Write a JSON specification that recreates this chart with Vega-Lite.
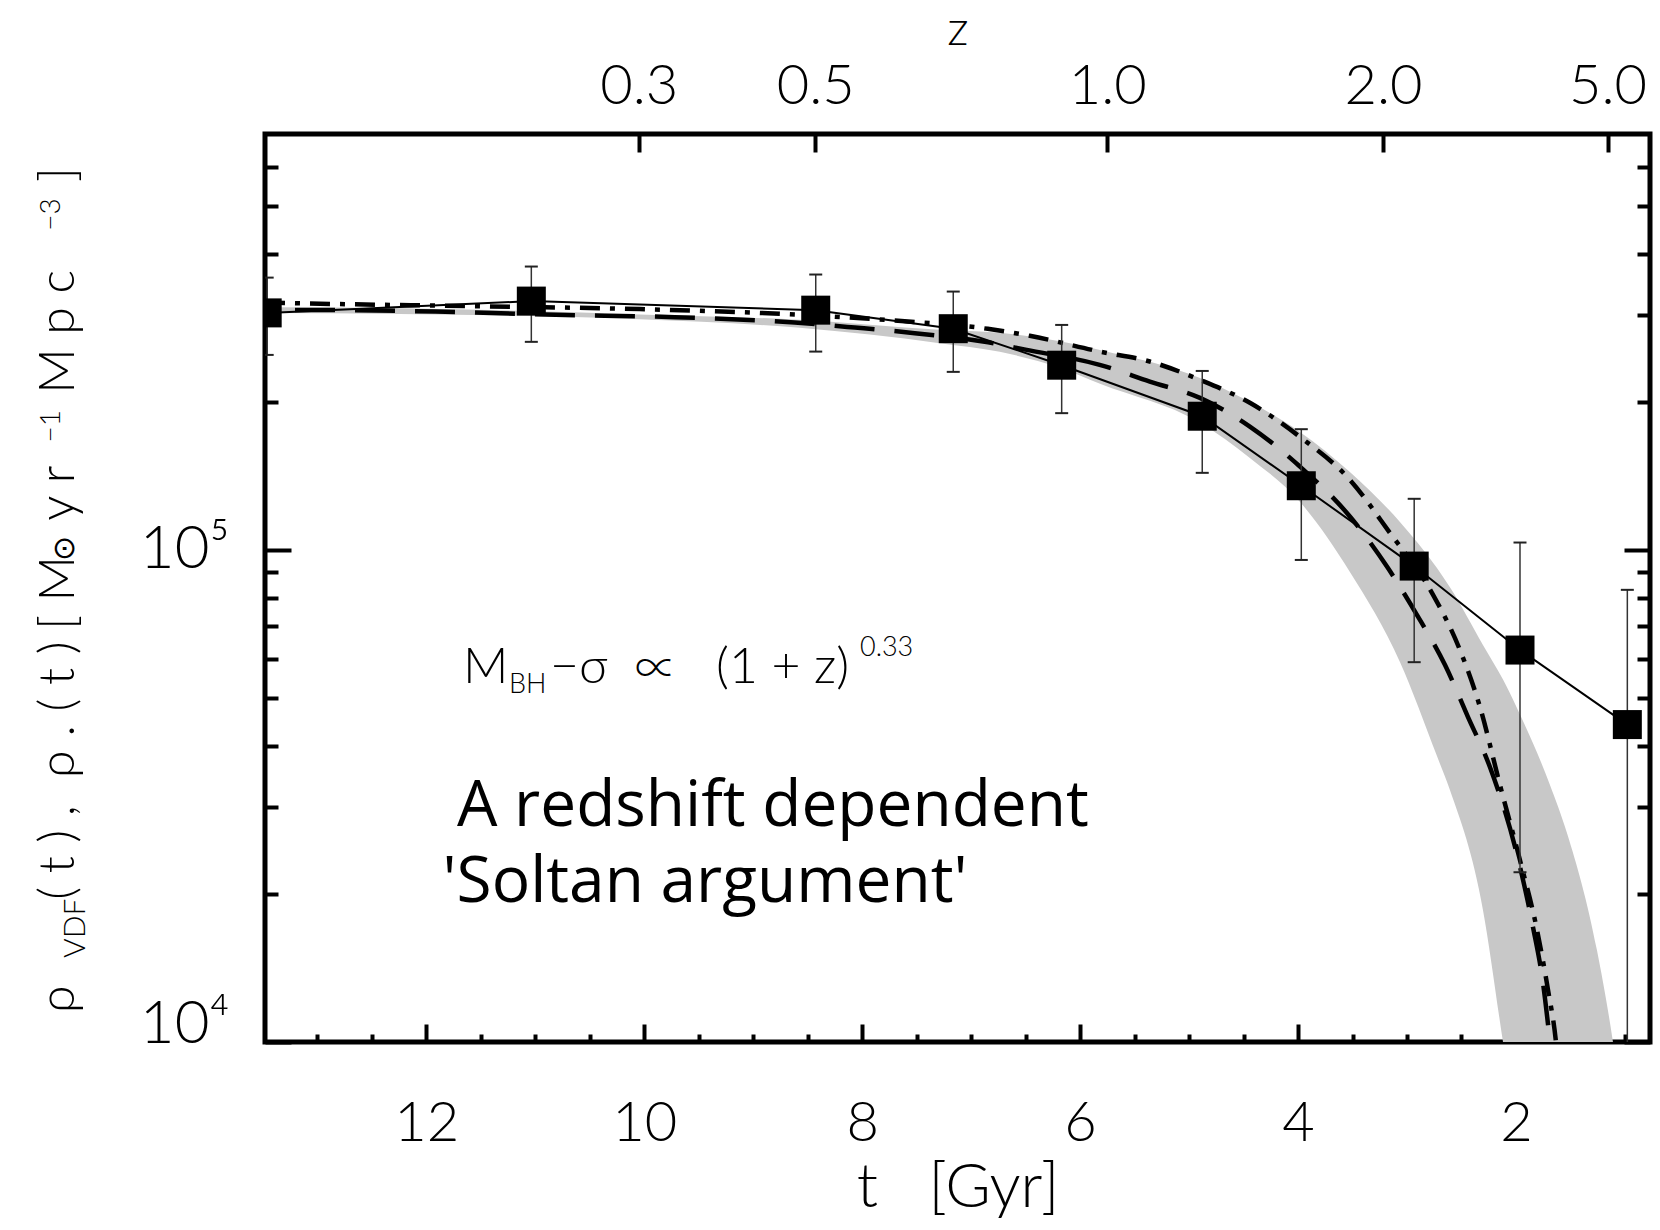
{
  "$schema": "https://vega.github.io/schema/vega-lite/v6.json",
  "width": 1385,
  "height": 908,
  "autosize": {"type": "none"},
  "padding": {"left": 265, "top": 134, "right": 10, "bottom": 188},
  "background": "white",
  "config": {
    "view": {"stroke": "black", "strokeWidth": 5},
    "axis": {"grid": false, "domain": false, "tickColor": "black", "tickWidth": 4, "labelColor": "black", "titleColor": "black", "labelFont": "Lato", "titleFont": "Lato", "labelFontWeight": 300, "titleFontWeight": 300}
  },
  "datasets": {
    "pts": [
      {"t": 13.46, "rho": 303100, "lo": 249000, "hi": 357500},
      {"t": 11.036, "rho": 320300, "lo": 264700, "hi": 376500},
      {"t": 8.426, "rho": 307000, "lo": 252900, "hi": 362700},
      {"t": 7.164, "rho": 281500, "lo": 230000, "hi": 334900},
      {"t": 6.169, "rho": 237300, "lo": 189600, "hi": 286500},
      {"t": 4.879, "rho": 186900, "lo": 143400, "hi": 231000},
      {"t": 3.970, "rho": 135000, "lo": 95400, "hi": 175900},
      {"t": 2.934, "rho": 92700, "lo": 59130, "hi": 127000},
      {"t": 1.963, "rho": 62580, "lo": 22130, "hi": 103500},
      {"t": 0.978, "rho": 44160, "lo": 9000, "hi": 82950}
    ],
    "band": [
      {"t": 13.48, "hi": 311100, "lo": 303100},
      {"t": 12.245, "hi": 309700, "lo": 301700},
      {"t": 10.042, "hi": 301000, "lo": 294100},
      {"t": 8.573, "hi": 293400, "lo": 282600},
      {"t": 7.288, "hi": 280000, "lo": 263100},
      {"t": 6.737, "hi": 276100, "lo": 252600},
      {"t": 6.186, "hi": 265500, "lo": 234400},
      {"t": 5.817, "hi": 254900, "lo": 217500},
      {"t": 4.900, "hi": 223600, "lo": 181200},
      {"t": 4.442, "hi": 199900, "lo": 153800},
      {"t": 3.983, "hi": 173700, "lo": 125200},
      {"t": 3.524, "hi": 144000, "lo": 90200},
      {"t": 3.065, "hi": 114000, "lo": 59200},
      {"t": 2.725, "hi": 91900, "lo": 38100},
      {"t": 2.606, "hi": 84000, "lo": 32500},
      {"t": 2.303, "hi": 64100, "lo": 18550},
      {"t": 2.119, "hi": 54500, "lo": 10000},
      {"t": 1.991, "hi": 47700, "lo": 6600},
      {"t": 1.688, "hi": 33300, "lo": 6600},
      {"t": 1.532, "hi": 26600, "lo": 6600},
      {"t": 1.257, "hi": 15380, "lo": 6600},
      {"t": 1.110, "hi": 10000, "lo": 6600},
      {"t": 1.0, "hi": 6600, "lo": 6500}
    ],
    "dashed": [
      {"t": 13.48, "rho": 307400},
      {"t": 13.163, "rho": 307400},
      {"t": 11.915, "rho": 305000},
      {"t": 10.813, "rho": 300300},
      {"t": 9.720, "rho": 297100},
      {"t": 8.619, "rho": 289700},
      {"t": 8.068, "rho": 283000},
      {"t": 7.517, "rho": 275700},
      {"t": 6.89, "rho": 265100},
      {"t": 6.49, "rho": 254900},
      {"t": 5.82, "rho": 237700},
      {"t": 5.36, "rho": 219800},
      {"t": 4.90, "rho": 203700},
      {"t": 4.442, "rho": 178100},
      {"t": 3.983, "rho": 147700},
      {"t": 3.524, "rho": 116900},
      {"t": 3.184, "rho": 92500},
      {"t": 2.909, "rho": 73800},
      {"t": 2.652, "rho": 58400},
      {"t": 2.441, "rho": 45800},
      {"t": 2.239, "rho": 36200},
      {"t": 1.963, "rho": 22700},
      {"t": 1.844, "rho": 17130},
      {"t": 1.752, "rho": 13180},
      {"t": 1.688, "rho": 10000},
      {"t": 1.633, "rho": 7600}
    ],
    "dashdot": [
      {"t": 13.48, "rho": 318400},
      {"t": 13.20, "rho": 317200},
      {"t": 11.538, "rho": 312800},
      {"t": 10.042, "rho": 308500},
      {"t": 8.738, "rho": 301700},
      {"t": 7.701, "rho": 292400},
      {"t": 6.847, "rho": 281300},
      {"t": 6.462, "rho": 272300},
      {"t": 5.819, "rho": 252900},
      {"t": 5.36, "rho": 241400},
      {"t": 4.90, "rho": 221600},
      {"t": 4.442, "rho": 199000},
      {"t": 3.983, "rho": 169700},
      {"t": 3.524, "rho": 138800},
      {"t": 3.157, "rho": 108300},
      {"t": 2.771, "rho": 81800},
      {"t": 2.514, "rho": 62600},
      {"t": 2.331, "rho": 48000},
      {"t": 2.147, "rho": 33300},
      {"t": 1.963, "rho": 23400},
      {"t": 1.807, "rho": 16900},
      {"t": 1.706, "rho": 12760},
      {"t": 1.633, "rho": 10000},
      {"t": 1.587, "rho": 7600}
    ],
    "annMain": [
      {"t": 11.663, "rho": 53660, "label": "M"},
      {"t": 10.865, "rho": 53660, "label": "−σ"},
      {"t": 9.341, "rho": 53660, "label": "(1 + z)"}
    ],
    "annSymbol": [
      {"t": 10.085, "rho": 53660, "label": "∝"}
    ],
    "annSmall": [
      {"t": 11.241, "rho": 51220, "label": "BH"},
      {"t": 8.02, "rho": 60890, "label": "0.33"}
    ],
    "comic": [
      {"t": 11.718, "rho": 27490, "label": "A redshift dependent"},
      {"t": 11.851, "rho": 19260, "label": "'Soltan argument'"}
    ],
    "ytMain": [
      {"t": 15.233, "rho": 11450, "label": "ρ"},
      {"t": 15.233, "rho": 19450, "label": "( t ) ,"},
      {"t": 15.233, "rho": 34400, "label": "ρ . ( t )"},
      {"t": 15.233, "rho": 68800, "label": "[ M"},
      {"t": 15.233, "rho": 114600, "label": "y r"},
      {"t": 15.233, "rho": 207700, "label": "M p c"},
      {"t": 15.233, "rho": 559000, "label": "]"}
    ],
    "ytSub": [
      {"t": 15.132, "rho": 14820, "label": "VDF"},
      {"t": 15.233, "rho": 94900, "label": "⊙"}
    ],
    "ytSup": [
      {"t": 15.36, "rho": 165300, "label": "−1"},
      {"t": 15.36, "rho": 445400, "label": "−3"}
    ]
  },
  "resolve": {"axis": {"x": "independent", "y": "independent"}},
  "layer": [
    {
      "data": {"name": "band"},
      "mark": {"type": "area", "color": "#c8c8c8", "opacity": 1, "clip": true, "interpolate": "monotone"},
      "encoding": {
        "x": {"field": "t", "type": "quantitative", "scale": {"domain": [13.48, 0.77], "nice": false, "zero": false},
              "axis": {"orient": "bottom", "values": [2, 4, 6, 8, 10, 12], "tickSize": -18, "labelFontSize": 56, "labelPadding": 72, "labelFlush": false, "labelOverlap": false, "title": "t\u00a0\u00a0\u00a0[Gyr]", "titleFontSize": 62, "titlePadding": 6}},
        "y": {"field": "hi", "type": "quantitative", "scale": {"type": "log", "domain": [10000, 700000], "nice": false},
              "axis": {"orient": "left", "values": [10000, 100000], "tickSize": -26, "labelExpr": "datum.value < 50000 ? '10⁴' : '10⁵'", "labelFontSize": 60, "labelPadding": 62, "labelFlush": false, "labelOverlap": false, "labelBaseline": {"condition": {"test": "datum.value < 50000", "value": "alphabetic"}, "value": "middle"}, "title": null}},
        "y2": {"field": "lo"}
      }
    },
    {
      "data": {"name": "dashed"},
      "mark": {"type": "line", "color": "black", "strokeWidth": 4.5, "strokeDash": [40, 20], "strokeDashOffset": 30, "strokeCap": "butt", "interpolate": "monotone", "clip": true},
      "encoding": {
        "x": {"field": "t", "type": "quantitative", "scale": {"domain": [13.48, 0.77], "nice": false, "zero": false},
              "axis": {"orient": "bottom", "values": [13, 12.5, 11.5, 11, 10.5, 9.5, 9, 8.5, 7.5, 7, 6.5, 5.5, 5, 4.5, 3.5, 3, 2.5, 1.5, 1], "tickSize": -8, "labels": false, "title": null}},
        "y": {"field": "rho", "type": "quantitative", "scale": {"type": "log", "domain": [10000, 700000], "nice": false},
              "axis": {"orient": "left", "values": [20000, 30000, 40000, 50000, 60000, 70000, 80000, 90000, 200000, 300000, 400000, 500000, 600000], "tickSize": -13, "labels": false, "title": null}}
      }
    },
    {
      "data": {"name": "dashdot"},
      "mark": {"type": "line", "color": "black", "strokeWidth": 4.5, "strokeDash": [20, 10, 5, 10], "strokeCap": "butt", "interpolate": "monotone", "clip": true},
      "encoding": {
        "x": {"field": "t", "type": "quantitative", "scale": {"domain": [13.48, 0.77], "nice": false, "zero": false},
              "axis": {"orient": "top", "values": [10.05, 8.43, 5.75, 3.22, 1.16], "tickSize": -18, "labelExpr": "datum.value > 9 ? '0.3' : datum.value > 7 ? '0.5' : datum.value > 4 ? '1.0' : datum.value > 2 ? '2.0' : '5.0'", "labelFontSize": 56, "labelPadding": 37, "labelFlush": false, "labelOverlap": false, "title": "z", "titleFontSize": 48, "titlePadding": 4}},
        "y": {"field": "rho", "type": "quantitative", "scale": {"type": "log", "domain": [10000, 700000], "nice": false},
              "axis": {"orient": "right", "values": [10000, 100000], "tickSize": -26, "labels": false, "title": null}}
      }
    },
    {
      "data": {"name": "pts"},
      "mark": {"type": "rule", "color": "#333333", "strokeWidth": 1.5, "clip": true},
      "encoding": {
        "x": {"field": "t", "type": "quantitative", "scale": {"domain": [13.48, 0.77], "nice": false, "zero": false}, "axis": null},
        "y": {"field": "lo", "type": "quantitative", "scale": {"type": "log", "domain": [10000, 700000], "nice": false},
              "axis": {"orient": "right", "values": [20000, 30000, 40000, 50000, 60000, 70000, 80000, 90000, 200000, 300000, 400000, 500000, 600000], "tickSize": -13, "labels": false, "title": null}},
        "y2": {"field": "hi"}
      }
    },
    {
      "data": {"name": "pts"},
      "mark": {"type": "tick", "orient": "horizontal", "size": 13, "thickness": 2, "color": "#222222", "opacity": 1, "clip": true},
      "encoding": {
        "x": {"field": "t", "type": "quantitative", "scale": {"domain": [13.48, 0.77], "nice": false, "zero": false}, "axis": null},
        "y": {"field": "hi", "type": "quantitative", "scale": {"type": "log", "domain": [10000, 700000], "nice": false}, "axis": null}
      }
    },
    {
      "data": {"name": "pts"},
      "mark": {"type": "tick", "orient": "horizontal", "size": 13, "thickness": 2, "color": "#222222", "opacity": 1, "clip": true},
      "encoding": {
        "x": {"field": "t", "type": "quantitative", "scale": {"domain": [13.48, 0.77], "nice": false, "zero": false}, "axis": null},
        "y": {"field": "lo", "type": "quantitative", "scale": {"type": "log", "domain": [10000, 700000], "nice": false}, "axis": null}
      }
    },
    {
      "data": {"name": "pts"},
      "mark": {"type": "line", "color": "black", "strokeWidth": 2, "clip": true},
      "encoding": {
        "x": {"field": "t", "type": "quantitative", "scale": {"domain": [13.48, 0.77], "nice": false, "zero": false}, "axis": null},
        "y": {"field": "rho", "type": "quantitative", "scale": {"type": "log", "domain": [10000, 700000], "nice": false}, "axis": null}
      }
    },
    {
      "data": {"name": "pts"},
      "mark": {"type": "point", "shape": "square", "filled": true, "color": "black", "opacity": 1, "size": 841, "clip": true},
      "encoding": {
        "x": {"field": "t", "type": "quantitative", "scale": {"domain": [13.48, 0.77], "nice": false, "zero": false}, "axis": null},
        "y": {"field": "rho", "type": "quantitative", "scale": {"type": "log", "domain": [10000, 700000], "nice": false}, "axis": null}
      }
    },
    {
      "data": {"name": "annMain"},
      "mark": {"type": "text", "font": "Lato", "fontWeight": 300, "fontSize": 50, "align": "left", "baseline": "alphabetic", "color": "black"},
      "encoding": {
        "x": {"field": "t", "type": "quantitative", "scale": {"domain": [13.48, 0.77], "nice": false, "zero": false}, "axis": null},
        "y": {"field": "rho", "type": "quantitative", "scale": {"type": "log", "domain": [10000, 700000], "nice": false}, "axis": null},
        "text": {"field": "label"}
      }
    },
    {
      "data": {"name": "annSymbol"},
      "mark": {"type": "text", "font": "Noto Sans CJK JP", "fontWeight": 300, "fontSize": 42, "align": "left", "baseline": "alphabetic", "color": "black"},
      "encoding": {
        "x": {"field": "t", "type": "quantitative", "scale": {"domain": [13.48, 0.77], "nice": false, "zero": false}, "axis": null},
        "y": {"field": "rho", "type": "quantitative", "scale": {"type": "log", "domain": [10000, 700000], "nice": false}, "axis": null},
        "text": {"field": "label"}
      }
    },
    {
      "data": {"name": "annSmall"},
      "mark": {"type": "text", "font": "Lato", "fontWeight": 300, "fontSize": 27, "align": "left", "baseline": "alphabetic", "color": "black"},
      "encoding": {
        "x": {"field": "t", "type": "quantitative", "scale": {"domain": [13.48, 0.77], "nice": false, "zero": false}, "axis": null},
        "y": {"field": "rho", "type": "quantitative", "scale": {"type": "log", "domain": [10000, 700000], "nice": false}, "axis": null},
        "text": {"field": "label"}
      }
    },
    {
      "data": {"name": "comic"},
      "mark": {"type": "text", "font": "Open Sans", "fontWeight": 500, "fontSize": 64, "align": "left", "baseline": "alphabetic", "color": "black"},
      "encoding": {
        "x": {"field": "t", "type": "quantitative", "scale": {"domain": [13.48, 0.77], "nice": false, "zero": false}, "axis": null},
        "y": {"field": "rho", "type": "quantitative", "scale": {"type": "log", "domain": [10000, 700000], "nice": false}, "axis": null},
        "text": {"field": "label"}
      }
    },
    {
      "data": {"name": "ytMain"},
      "mark": {"type": "text", "font": "Lato", "fontWeight": 300, "fontSize": 50, "align": "left", "baseline": "alphabetic", "angle": 270, "color": "black"},
      "encoding": {
        "x": {"field": "t", "type": "quantitative", "scale": {"domain": [13.48, 0.77], "nice": false, "zero": false}, "axis": null},
        "y": {"field": "rho", "type": "quantitative", "scale": {"type": "log", "domain": [10000, 700000], "nice": false}, "axis": null},
        "text": {"field": "label"}
      }
    },
    {
      "data": {"name": "ytSub"},
      "mark": {"type": "text", "font": "Lato", "fontWeight": 300, "fontSize": 30, "align": "left", "baseline": "alphabetic", "angle": 270, "color": "black"},
      "encoding": {
        "x": {"field": "t", "type": "quantitative", "scale": {"domain": [13.48, 0.77], "nice": false, "zero": false}, "axis": null},
        "y": {"field": "rho", "type": "quantitative", "scale": {"type": "log", "domain": [10000, 700000], "nice": false}, "axis": null},
        "text": {"field": "label"}
      }
    },
    {
      "data": {"name": "ytSup"},
      "mark": {"type": "text", "font": "Lato", "fontWeight": 300, "fontSize": 28, "align": "left", "baseline": "alphabetic", "angle": 270, "color": "black"},
      "encoding": {
        "x": {"field": "t", "type": "quantitative", "scale": {"domain": [13.48, 0.77], "nice": false, "zero": false}, "axis": null},
        "y": {"field": "rho", "type": "quantitative", "scale": {"type": "log", "domain": [10000, 700000], "nice": false}, "axis": null},
        "text": {"field": "label"}
      }
    }
  ]
}
